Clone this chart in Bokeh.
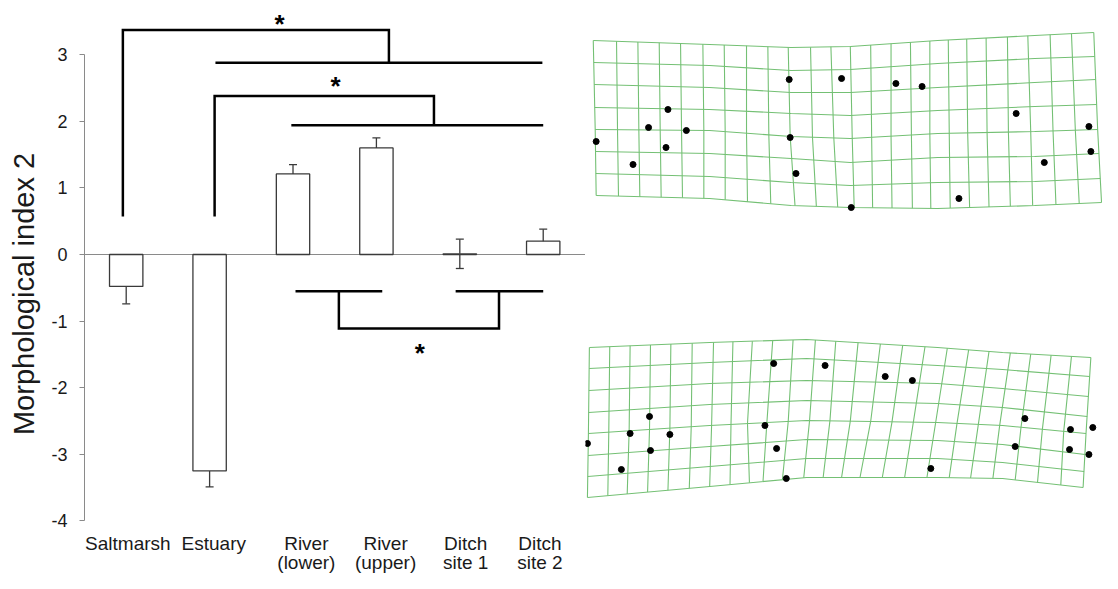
import numpy as np
from bokeh.plotting import figure
from bokeh.layouts import row
from bokeh.models import (ColumnDataSource, Range1d, FixedTicker, Whisker, TeeHead, Span,
                          LabelSet)
from bokeh.core.properties import value
from bokeh.embed import file_html
from bokeh.resources import INLINE

FONT = "Liberation Sans"

# ---------------- data: bar chart ----------------
sites = ["Saltmarsh", "Estuary", "River (lower)", "River (upper)", "Ditch site 1", "Ditch site 2"]
label_line1 = ["Saltmarsh", "Estuary", "River", "River", "Ditch", "Ditch"]
label_line2 = ["", "", "(lower)", "(upper)", "site 1", "site 2"]
means = [-0.48, -3.25, 1.21, 1.60, 0.01, 0.20]
sems = [0.26, 0.24, 0.14, 0.15, 0.22, 0.18]
y_ticks = [-4, -3, -2, -1, 0, 1, 2, 3]

# significance brackets (category-index x, index-value y)
bracket_xs = [[-0.04, -0.04, 3.15, 3.15], [1.07, 4.99],
              [1.06, 1.06, 3.69, 3.69], [1.98, 5.0],
              [2.03, 3.07], [2.55, 2.55, 4.47, 4.47], [3.95, 5.0]]
bracket_ys = [[0.57, 3.37, 3.37, 2.88], [2.88, 2.88],
              [0.57, 2.38, 2.38, 1.94], [1.94, 1.94],
              [-0.55, -0.55], [-0.55, -1.11, -1.11, -0.55], [-0.55, -0.55]]
sig_x = [1.84, 2.51, 3.52]
sig_y = [3.33, 2.39, -1.61]
sig_text = ["*", "*", "*"]

# ---------------- data: deformation grids (landmark/image coordinates) ----------------
g1_top_x = [593, 617, 639, 661, 683, 706, 728, 751, 773, 794, 817, 838, 858,
            879, 900, 920, 940, 959, 978, 998, 1020, 1041, 1064, 1086, 1109]
g1_mid_x = [595, 618, 640, 662, 684, 707, 729, 751, 774, 796, 819, 841, 860,
            880, 900, 921, 940, 960, 979, 999, 1021, 1044, 1067, 1090, 1113]
g1_bot_x = [596, 619, 641, 663, 685, 707, 729, 752, 776, 801, 823, 845, 862,
            881, 901, 922, 941, 961, 981, 1001, 1023, 1046, 1070, 1094, 1117]
g1_sample_x = [594, 713, 797, 858, 948, 1048, 1112]
g1_rows_y = [[40, 44, 47, 46, 40, 35, 32],
             [62, 65, 70, 69, 63, 58, 56],
             [84, 87, 92, 92, 87, 82, 79],
             [107, 109, 113, 115, 110, 106, 104],
             [129, 130, 136, 138, 133, 131, 129],
             [151, 153, 158, 162, 157, 156, 153],
             [173, 176, 182, 185, 182, 181, 178],
             [195, 198, 205, 207, 208, 205, 202]]
g1_pts_x = [596, 634, 650, 670, 668, 689, 795, 796, 802, 849, 905, 932, 1029, 1058, 1104, 1106, 970, 859]
g1_pts_y = [141, 164, 127, 109, 147, 130, 79, 137, 173, 78, 83, 86, 113, 162, 126, 151, 198, 207]

g2_top_x = [589, 610, 631, 652, 673, 695, 717, 737, 757, 778, 799, 822, 843,
            866, 889, 912, 935, 958, 980, 1001, 1023, 1044, 1065, 1086, 1106]
g2_mid_x = [588, 609, 630, 651, 672, 694, 715, 735, 752, 772, 794, 816, 837,
            858, 879, 901, 923, 946, 968, 990, 1012, 1034, 1056, 1078, 1101]
g2_bot_x = [587, 608, 628, 649, 670, 692, 713, 734, 754, 768, 788, 810, 830,
            849, 868, 891, 914, 937, 960, 982, 1005, 1028, 1051, 1075, 1098]
g2_sample_x = [588, 713, 813, 948, 1015, 1106]
g2_rows_y = [[347, 342, 339, 347, 352, 357],
             [368, 362, 358, 365, 369, 376],
             [390, 383, 380, 383, 388, 396],
             [412, 404, 400, 403, 407, 416],
             [433, 425, 420, 422, 425, 433],
             [455, 446, 439, 440, 444, 454],
             [476, 466, 458, 458, 462, 471],
             [497, 486, 477, 477, 478, 487]]
g2_pts_x = [587, 622, 631, 651, 652, 672, 779, 832, 770, 782, 792, 894, 922, 1038, 1028, 1085, 1108, 1084, 1104, 941]
g2_pts_y = [443, 469, 433, 416, 450, 434, 363, 365, 425, 448, 478, 376, 380, 418, 446, 429, 427, 449, 454, 468]

# ---------------- styles ----------------
label_dx = [0.02, 0.05, 0.16, 0.11, 0.07, -0.04]
line1_y, line2_y = -4.43, -4.715
AX = "#8a8a8a"
DARK = "#3a3a3a"
TXT = "#1a1a1a"
GREEN = "#74c074"

# ---------------- bar chart ----------------
p = figure(width=585, height=573, x_range=Range1d(-0.5, 5.507), y_range=Range1d(-4.790, 3.604),
           x_axis_location=None, y_axis_location="left", toolbar_location=None,
           output_backend="svg", min_border=0, min_border_left=84, min_border_top=14)
p.grid.visible = False
p.outline_line_color = None
p.background_fill_color = "white"

ya = p.yaxis[0]
ya.ticker = FixedTicker(ticks=y_ticks)
ya.bounds = (min(y_ticks), max(y_ticks))
ya.major_label_overrides = {t: str(t) for t in y_ticks}
ya.axis_line_color = AX
ya.major_tick_line_color = AX
ya.major_tick_out = 5
ya.major_tick_in = 0
ya.minor_tick_line_color = None
ya.major_label_text_font = FONT
ya.major_label_text_font_size = "18px"
ya.major_label_text_color = TXT
ya.major_label_standoff = 12
ya.axis_label = "Morphological index 2"
ya.axis_label_text_font = FONT
ya.axis_label_text_font_size = "29px"
ya.axis_label_text_font_style = "normal"
ya.axis_label_text_color = TXT
ya.axis_label_standoff = 8

p.add_layout(Span(location=0, dimension="width", line_color=AX, line_width=1, level="underlay"))

xs = list(range(len(sites)))
src = ColumnDataSource(dict(x=xs, top=means,
                            upper=[m + e for m, e in zip(means, sems)],
                            lower=[m - e for m, e in zip(means, sems)]))
p.vbar(x="x", top="top", bottom=0, width=0.4, source=src,
       fill_color="white", line_color=DARK, line_width=1.3)
p.add_layout(Whisker(source=src, base="x", upper="upper", lower="lower",
                     line_color=DARK, line_width=1.3,
                     upper_head=TeeHead(size=8, line_color=DARK, line_width=1.3),
                     lower_head=TeeHead(size=8, line_color=DARK, line_width=1.3)))

p.multi_line(xs=bracket_xs, ys=bracket_ys, line_color="black", line_width=2.5,
             line_join="miter", line_cap="butt")

sig_src = ColumnDataSource(dict(x=sig_x, y=sig_y, t=sig_text))
p.add_layout(LabelSet(x="x", y="y", text="t", source=sig_src, text_font=value(FONT),
                      text_font_size="26px", text_font_style="bold", text_align="center",
                      text_baseline="alphabetic", text_color="black"))

lx = [i + d for i, d in zip(xs, label_dx)]
cat_src = ColumnDataSource(dict(x=lx, y1=[line1_y] * len(xs), y2=[line2_y] * len(xs),
                                t1=label_line1, t2=label_line2))
for yk, tk in (("y1", "t1"), ("y2", "t2")):
    p.add_layout(LabelSet(x="x", y=yk, text=tk, source=cat_src, text_font=value(FONT),
                          text_font_size="19px", text_align="center",
                          text_baseline="alphabetic", text_color=TXT))

# ---------------- deformation grids ----------------
# the row layout aligns this frame's top with the bar chart frame (14 px from the top)
q = figure(width=517, height=573, x_range=Range1d(585, 1118), y_range=Range1d(573, 14),
           x_axis_location=None, y_axis_location=None, toolbar_location=None,
           output_backend="svg", min_border=0)
q.grid.visible = False
q.outline_line_color = None


def grid_geometry(top_x, mid_x, bot_x, sample_x, rows_y):
    rows_y = np.asarray(rows_y, float)
    n = rows_y.shape[0]
    anchors = [0, n // 2, n - 1]
    row_xs, row_ys = [], []
    for r in range(n):
        left = float(np.interp(r, anchors, [top_x[0], mid_x[0], bot_x[0]]))
        right = float(np.interp(r, anchors, [top_x[-1], mid_x[-1], bot_x[-1]]))
        rx = list(sample_x)
        rx[0], rx[-1] = left, right
        row_xs.append(rx)
        row_ys.append(list(rows_y[r]))
    col_xs, col_ys = [], []
    for c in range(len(top_x)):
        cx = [top_x[c], mid_x[c], bot_x[c]]
        cy = [float(np.interp(cx[k], row_xs[a], rows_y[a])) for k, a in enumerate(anchors)]
        col_xs.append(cx)
        col_ys.append(cy)
    return row_xs + col_xs, row_ys + col_ys


for tx, mx, bx, sx, ry, px, py in [
        (g1_top_x, g1_mid_x, g1_bot_x, g1_sample_x, g1_rows_y, g1_pts_x, g1_pts_y),
        (g2_top_x, g2_mid_x, g2_bot_x, g2_sample_x, g2_rows_y, g2_pts_x, g2_pts_y)]:
    gx, gy = grid_geometry(tx, mx, bx, sx, ry)
    q.multi_line(xs=gx, ys=gy, line_color=GREEN, line_width=1.1)
    q.scatter(x=px, y=py, size=6, fill_color="black", line_color="black")

layout = row(p, q)
open("out.html", "w").write(file_html(layout, INLINE))
